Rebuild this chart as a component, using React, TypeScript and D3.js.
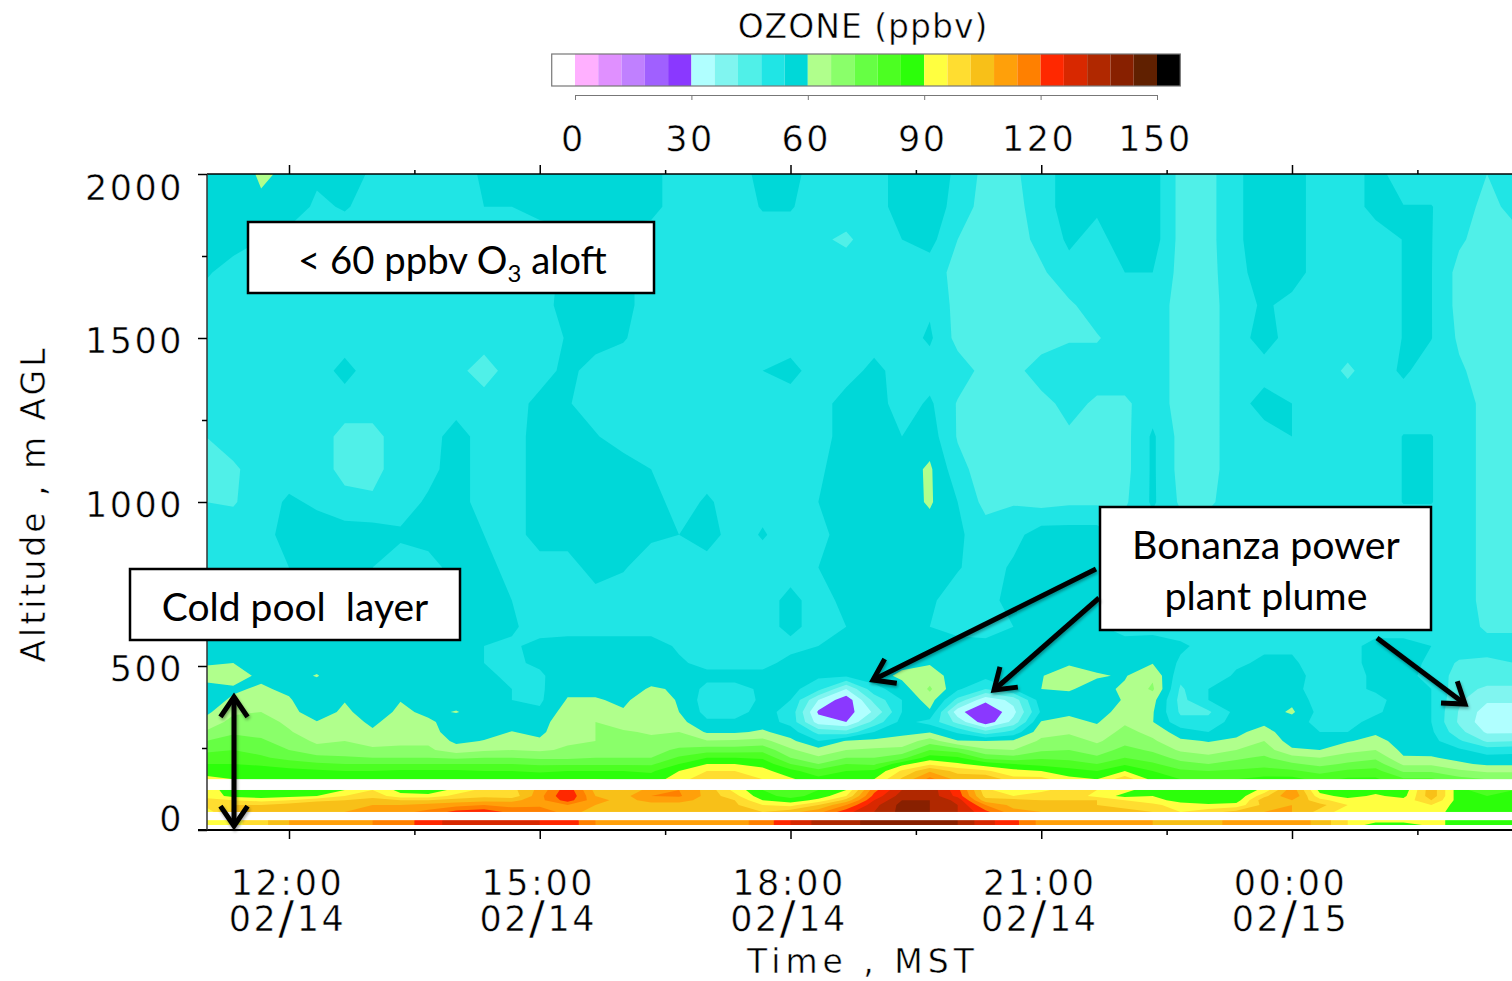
import React, { useEffect, useRef } from "react";
import * as d3 from "d3";

// ozone lidar curtain, ppbv. columns are 20 min apart starting at 11:00
const startTime = new Date(2013, 1, 14, 11, 0);
const columnCount = 48;

const aloftAltitudes = [2000, 1900, 1800, 1700, 1600, 1500, 1400, 1300, 1200, 1100, 1000, 900, 800, 700, 620];
const aloftRows = [
  [57,57,60.8,59,55,57,53,51,51,51,55,55, 56,57,57,57,56,51,51,51,56,56,51,51, 51,57,57,53,46,47,51,57,55,57,57,46, 46,53,57,57,51,51,56,51,51,48,48,51],
  [57,57,59,57,53,54.5,52,51,51,51,54,54, 56,57,57,57,56,51,51,51,54.5,54.5,51,51, 51,57,57,52,45,46,51,57,55,57,57,46, 46,53,57,57,51,51,56,54.2,54.2,51,46,50],
  [57,57,54,52,51,51,51,51,51,51,51,51, 51,52,51,51,51,51,51,51,51,51,49,47, 51,54,56,48,45,45,50,55,52,57,57,46, 46,53,57,57,51,51,51,54.2,54.2,49,45,46],
  [55,51,51,51,51,51,51,51,51,51,51,51, 51,56,56,56,51,51,51,51,51,51,51,51, 51,51,51,46,45,45,47,52,51,54,54,46, 46,52,57,57,51,51,51,54.2,54.2,46,45,45],
  [51,51,51,51,51,51,51,51,51,51,51,51, 51,57,57,56,51,51,51,51,51,51,51,51, 51,51,53,46,45,45,45,47,51,51,51,46, 46,51,55,52,51,51,51,54.2,54.2,46,45,45],
  [51,51,51,51,51,51,51,51,51,51,51,51, 51,54.5,57,54.5,51,51,51,51,51,51,51,51, 51,51,55,46,45,45,45,47.5,47.5,51,51,46, 46,51,57,51,51,51,51,54.2,54.2,47,45,45],
  [51,51,51,51,51,56,51,51,51,50,45,51, 51,56,51,51,51,51,51,51,54,56,51,51, 56,51,51,51,46,46,51,51,51,51,51,46, 46,51,51,51,51,47,51,55,51,49,45,45],
  [51,51,51,51,51,51,51,51,51,51,51,51, 56,54.5,51,51,51,51,51,51,51,51,51,57, 57,51,55,47.5,45,45,46,50,47,47,51,46, 46,51,57,54,51,51,51,51,51,51,46,45],
  [48,51,51,51,51,46,46,51,51,57,51,51, 57,57,54.5,51,51,51,51,51,51,51,51,57, 57,54,57,47.5,45,45,45,47,46,46,55,46, 46,51,51,54,51,51,51,54.2,54.2,51,46,45],
  [46,47,51,51,51,46,46,51,52,57,51,51, 57,57,57,57,54,51,51,51,51,51,53,57, 57,57,61,50,45,45,45,46,46,46,55,46, 46,51,51,51,51,51,51,54.2,54.2,51,46,45],
  [48,47.5,51,55,53,50,49,51,55,57,51,51, 57,57,57,57,57,51,55,51,52,51,54,57, 57,57,60.8,54,46,47.5,46,47,47,47,55,47, 47,51,51,51,51,51,51,54.2,54.2,51,46,45],
  [51,51,51,57,57,57,57,55,57,57,54,51, 57,57,57,57,55,54,57,51,54.6,51,52,57, 57,57,57,55,51,52,57,57,57,51,51,51, 51,51,51,51,51,51,51,51,51,51,46,45],
  [51,51,51,54,54,54,54,51,51,57,57,51, 51,51,57,54.5,51,51,51,51,51,51,54,57, 57,57,57,54.5,51,55,57,57,57,51,51,51, 51,51,51,51,51,51,51,51,51,51,46,45],
  [57,57,57,57,57,57,57,57,57,57,57,54, 51,51,51,51,51,51,51,51,51,56,51,56, 57,57,55,51,51,57,57,57,57,51,51,51, 51,51,51,51,51,51,51,51,51,51,46,46],
  [57,57,57,57,57,57,57,57,57,57,57,55, 51,51,51,51,51,51,51,51,51,56,51,54, 54,54,54,51,51,54,57,57,55,51,51,51, 51,51,51,51,51,51,51,51,51,51,47,47],
];

// below 620 m the structure is layered, so these are kept as one profile per time
const boundaryAltitudes = [561, 509, 470, 430, 396, 360, 329, 299, 271, 244, 220, 201, 180, 155, 122, 104, 91, 76, 55, 30, 15];
const boundaryProfiles = [
  [57,59.5,62,58,57,58.5,62,66.5,72,77,80,84,87,92, 92,94,98,97,93, 92,92],
  [57,60,63,59,61,65,68,71,74.5,78,81,84,87,90, 88,88,96,102,103, 94,94],
  [56,57,58.5,61,64,66,68,70,73,76,79,83,87,89, 86,86,94,102,105, 100,100],
  [56,56,57,58.5,60.8,63,65,66.5,69,72,76,81,86,88, 86,88,96,105,108, 108,108],
  [57,57,60.5,56,54,55,60.5,63,65,68,74,79,85,88, 88,90,100,108,106, 110,110],
  [57,56,54.5,54,59.5,62,63.5,65,66,68,73,78,84,88, 90,96,102,106,108, 112,112],
  [57,55,54,54,54,55,58.5,61,64,67,72,78,84,88, 96,100,104,108,110, 114,114],
  [57,56,54,55,59.7,62,64,64,65,67,72,78,85,88, 88,92,102,108,112, 116,116],
  [56,56,55,56,56,58,61.5,63,65,67,72,78,85,88, 86,92,102,110,116, 124,124],
  [55,55,55,55,56,60.5,56,56,58.5,63,71,78,85,89, 92,98,104,112,122, 128,128],
  [54,54,55,56,55,56,57,58,60.3,65,72,78,84,88, 98,100,106,114,124, 128,128],
  [53,53,53,54,54,56,57,60.2,64,66,72,78,84,87, 100,98,106,112,118, 126,126],
  [56,55,53,53,53,55,57,58.5,61,65,71,77,83,88, 110,112,112,112,120, 126,126],
  [57,57,58,58.5,60.5,63,65,65,65,67,71,77,84,89, 124,126,123,114,110, 124,124],
  [57,57,57,58.5,60.5,63,66,66,66,68,72,77,84,90, 106,108,110,108,106, 114,114],
  [57,57,57,58,59,60.5,64,66.5,66,68,72,77,84,87, 104,106,106,104,104, 112,112],
  [57,57,58,60.5,63,65,66,65.5,67,70,72,77,83,87, 110,114,110,106,104, 112,112],
  [53,55,56,59.5,59.5,60,62,66,69,73,79,84,90,93, 114,115,110,106,102, 112,112],
  [52,52,56,52,51,52,55,59.2,66.5,75,84,90,96,101, 106,106,106,104,103, 112,112],
  [52,52,56,52,51,52,55,59,67,75,84,90,96,100, 94,98,102,103,103, 112,112],
  [52,52,56,55,55,56,57,61,68,76,83,88,92,96, 84,86,90,96,102, 116,116],
  [52,56,57,56,54,52,52,57,61.5,67,72,78,86,91, 80,82,86,94,106, 126,126],
  [54,54,55,50,36,29,33,46,54,62,67,72,80,86, 84,86,92,102,112, 134,134],
  [54,55,55,36,26,27,30,44,60.5,66,72,78,84,88, 90,96,104,114,124, 136,136],
  [56,57,57,52,44,37,44,54,61.5,67,72,77,85,90, 118,122,126,130,132, 140,140],
  [57,58,61.5,57,54,54,56,58.5,62,68,76,88,97,103, 132,135,138,140,140, 142,142],
  [57,59.5,63,67,63,59,52,59.5,69,78,87,95,107,116, 136,136,138,138,138, 142,142],
  [57,57,57,55,46,32,40,53,60.5,75,85,91,100,106, 122,124,130,132,132, 138,138],
  [56,56,56,48,31.5,24,26,44,60.3,67,76,87,97,108, 98,100,104,114,122, 128,128],
  [56,56,56,54,38,34,38,50,61,66,74,84,92,98, 90,96,104,106,110, 122,122],
  [56,57,59.8,60,57.5,55,60.5,64,67,71,77,82,90,98, 94,100,102,104,108, 112,112],
  [57,59.5,62,60.5,58,59,61.5,65,69,72,76,81,86,92, 100,100,102,104,106, 110,110],
  [57,58.5,60.5,58,57,57,59.5,62,65,69,73,78,84,90, 96,94,102,102,104, 110,110],
  [57,58,59.5,61,60.5,63,65,68,70,74,78,83,90,100, 92,88,96,100,104, 110,110],
  [58,59.7,65,67,62,60.5,60.2,64,67,71,75,79,84,88, 86,90,92,98,102, 108,108],
  [55,53,50,47,46,47,50,57,61,65,70,74,79,84, 84,85,88,92,96, 106,106],
  [52,52,50,54,54,47,50,54,59.7,63,68,72,78,83, 84,85,86,91,100, 106,106],
  [52,53,55,56,56,56,57,58.5,61,66,71,74,79,84, 84,85,87,92,104, 110,110],
  [53,55,56,56,57,57,58.5,62.5,66,69,73,76,80,86, 92,100,106,104,108, 110,110],
  [53,55,57,56,58.5,61,57,56,57,61,68,73,79,86, 112,114,108,108,108, 112,112],
  [52,51,51,51,51,52,52,54,57,60,66,70,76,82, 88,92,98,104,100, 106,106],
  [52,52,52,52,51,51,52,54,59.5,64,69,73,79,85, 86,88,92,96,92, 96,96],
  [56,56,55,55,52,53,56,59,62,66,71,75,80,85, 88,91,94,96,92, 94,86],
  [56,56,55,56,57,57,57,57,57.5,58.5,60.5,65,71,79, 86,88,92,92,92, 94,86],
  [54,53,53,54,54,54,54,55,56,58,60.5,65,71,79, 106,106,102,96,92, 92,92],
  [52,47,45,44,43,41.5,41,44,49,55,58.5,61,67,74, 86,86,87,87,88, 88,88],
  [50,47,45,41,37,33,32,35,41,51,56,59,65,72, 80,84,86,86,86, 88,88],
  [50,48,45,41,37,33,33,35,42,52,56,59,65,72, 84,84,85,85,85, 88,88],
];

// altitude ranges the lidar did not report, left white
const noDataBands = [[122, 155], [30, 55], [0, 15]];

const bandColors = [
  "#ffffff",
  "#ffb0ff", "#e090ff", "#c080ff", "#a060ff", "#8a38ff",
  "#b0ffff", "#80f5f0", "#50f0e8", "#20e5e5", "#00d8d8",
  "#b0ff8c", "#8aff6a", "#66ff44", "#4cff22", "#2cff0a",
  "#ffff40", "#ffdd30", "#f8c018", "#ffa00a", "#ff8000",
  "#ff2800", "#d82800", "#b02800", "#882000", "#602000",
  "#000000",
];
const bandLevels = bandColors.map((_, i) => -6 + i * 6);
const colorTicks = [0, 30, 60, 90, 120, 150];

const altMajor = [0, 500, 1000, 1500, 2000];
const altMinor = [250, 750, 1250, 1750];
const timeMajor = [12, 15, 18, 21, 24].map((h) => new Date(2013, 1, 14, h));
const timeMinor = [13.5, 16.5, 19.5, 22.5, 25.5].map((h) => new Date(2013, 1, 14, Math.floor(h), (h % 1) * 60));

const AXIS_FONT = "'DejaVu Sans', sans-serif";
const NOTE_FONT = "Lato, sans-serif";

const plot = { left: 207, right: 1512, top: 174, bottom: 830 };

const xScale = d3.scaleTime().domain([timeMajor[0], timeMajor[4]]).range([289, 1292]);
const yScale = d3.scaleLinear().domain([0, 2000]).range([plot.bottom, plot.top]);
const barScale = d3.scaleLinear().domain([0, 150]).range([575, 1157]);

const altitudes = [...aloftAltitudes, ...boundaryAltitudes];
const cellValues: number[] = [];
altitudes.forEach((_, j) => {
  for (let i = 0; i < columnCount; i++) {
    cellValues.push(j < aloftRows.length ? aloftRows[j][i] : boundaryProfiles[i][j - aloftRows.length]);
  }
});

const colToTime = d3.scaleLinear().domain([0, 1]).range([+startTime, +startTime + 20 * 60000]);
const rowToAlt = d3.scaleLinear().domain(altitudes.map((_, j) => j)).range(altitudes).clamp(true);

const toPixels = d3.geoTransform({
  point(cx: number, cy: number) {
    // @ts-ignore
    this.stream.point(xScale(new Date(colToTime(cx - 0.5))), yScale(rowToAlt(cy - 0.5)));
  },
});
const contourPath = d3.geoPath(toPixels);
const contourBands = d3.contours().size([columnCount, altitudes.length]).thresholds(bandLevels)(cellValues);

function arrowHead(x0: number, y0: number, x1: number, y1: number, size = 24) {
  const a = Math.atan2(y1 - y0, x1 - x0);
  const wing = (d: number) => `${x1 - size * Math.cos(a + d)},${y1 - size * Math.sin(a + d)}`;
  return `M${wing(0.6)}L${x1},${y1}L${wing(-0.6)}`;
}

function Arrow({ x0, y0, x1, y1, both }: { x0: number; y0: number; x1: number; y1: number; both?: boolean }) {
  return (
    <g fill="none" stroke="#000" strokeWidth={5} strokeLinejoin="miter" filter="url(#noteShadow)">
      <path d={`M${x0},${y0}L${x1},${y1}`} />
      <path d={arrowHead(x0, y0, x1, y1)} />
      {both && <path d={arrowHead(x1, y1, x0, y0)} />}
    </g>
  );
}

function NoteBox({ x, y, w, h }: { x: number; y: number; w: number; h: number }) {
  return <rect x={x} y={y} width={w} height={h} fill="#fff" stroke="#000" strokeWidth={2.5} />;
}

export default function App() {
  const xMajorRef = useRef<SVGGElement>(null);
  const xMinorRef = useRef<SVGGElement>(null);
  const xTopRef = useRef<SVGGElement>(null);
  const xTopMinorRef = useRef<SVGGElement>(null);
  const yMajorRef = useRef<SVGGElement>(null);
  const yMinorRef = useRef<SVGGElement>(null);
  const barRef = useRef<SVGGElement>(null);

  useEffect(() => {
    const hhmm = d3.timeFormat("%H:%M");
    const mm = d3.timeFormat("%m");
    const dd = d3.timeFormat("%d");

    const xMajor = d3.select(xMajorRef.current!);
    xMajor.call(d3.axisBottom(xScale).tickValues(timeMajor).tickSize(9).tickSizeOuter(0).tickFormat(() => ""));
    xMajor.select(".domain").remove();
    xMajor.selectAll<SVGTextElement, Date>(".tick text").each(function (d) {
      const t = d3.select(this).attr("y", null).attr("dy", null);
      t.append("tspan").attr("x", -2).attr("y", 65).text(hhmm(d));
      const second = d3.select(this.parentNode as SVGGElement).append("text").attr("text-anchor", "middle").attr("x", -2).attr("y", 101);
      second.append("tspan").text(mm(d));
      second.append("tspan").attr("font-size", 47).attr("dy", 3).text("/");
      second.append("tspan").attr("dy", -3).text(dd(d));
    });

    const xMinor = d3.select(xMinorRef.current!);
    xMinor.call(d3.axisBottom(xScale).tickValues(timeMinor).tickSize(5).tickFormat(() => ""));
    xMinor.select(".domain").remove();

    const xTop = d3.select(xTopRef.current!);
    xTop.call(d3.axisTop(xScale).tickValues(timeMajor).tickSize(9).tickFormat(() => ""));
    xTop.select(".domain").remove();
    const xTopMinor = d3.select(xTopMinorRef.current!);
    xTopMinor.call(d3.axisTop(xScale).tickValues(timeMinor).tickSize(4).tickFormat(() => ""));
    xTopMinor.select(".domain").remove();

    // the labels at both ends of the altitude axis sit inside the axis range
    const altLabelShift = new Map([[0, -11], [500, 3], [1000, 3], [1500, 3], [2000, 14]]);
    const yMajor = d3.select(yMajorRef.current!);
    yMajor.call(d3.axisLeft(yScale).tickValues(altMajor).tickSize(9).tickPadding(14).tickFormat(d3.format("d") as any));
    yMajor.select(".domain").remove();
    yMajor.selectAll<SVGTextElement, number>(".tick text").attr("y", (d) => altLabelShift.get(d) ?? 0);
    const yMinor = d3.select(yMinorRef.current!);
    yMinor.call(d3.axisLeft(yScale).tickValues(altMinor).tickSize(5).tickFormat(() => ""));
    yMinor.select(".domain").remove();

    const bar = d3.select(barRef.current!);
    bar.call(d3.axisBottom(barScale).tickValues(colorTicks).tickSize(5).tickSizeOuter(0).tickPadding(26).tickFormat(d3.format("d") as any));
    bar.selectAll(".domain, .tick line").attr("stroke", "#777");
    bar.selectAll(".tick text").attr("x", -2);

    d3.selectAll<SVGGElement, unknown>(".lidar-axis").attr("font-family", AXIS_FONT).attr("font-size", 35);
    d3.selectAll<SVGTextElement, unknown>(".lidar-axis text")
      .attr("fill", "#000")
      .attr("letter-spacing", 2.5)
      .attr("stroke", "#fff")
      .attr("stroke-width", 0.5);
    d3.selectAll<SVGLineElement, unknown>(".lidar-plot .tick line").attr("stroke", "#000").attr("stroke-width", 1.5);
  }, []);

  return (
    <svg width={1512} height={981} style={{ position: "absolute", left: 0, top: 0, display: "block" }}>
      <defs>
        <clipPath id="plotClip">
          <rect x={plot.left} y={plot.top} width={plot.right - plot.left} height={plot.bottom - plot.top} />
        </clipPath>
        <filter id="noteShadow" x="-20%" y="-20%" width="140%" height="140%">
          <feDropShadow dx={1} dy={2} stdDeviation={1.5} floodColor="#000" floodOpacity={0.35} />
        </filter>
      </defs>

      <g clipPath="url(#plotClip)">
        {contourBands.map((band, i) => (
          <path key={i} d={contourPath(band) || ""} fill={bandColors[i]} />
        ))}
        {noDataBands.map(([lo, hi]) => (
          <rect key={lo} x={plot.left} width={plot.right - plot.left} y={yScale(hi)} height={yScale(lo) - yScale(hi)} fill="#fff" />
        ))}
      </g>

      <g className="lidar-plot">
        <line x1={plot.left} x2={plot.right} y1={plot.top} y2={plot.top} stroke="#000" strokeWidth={1.5} />
        <line x1={plot.left - 9} x2={plot.right} y1={plot.bottom} y2={plot.bottom} stroke="#000" strokeWidth={2} />
        <line x1={plot.left} x2={plot.left} y1={plot.top} y2={plot.bottom} stroke="#333" strokeWidth={1.5} />
        <g ref={xMajorRef} className="lidar-axis" transform={`translate(0,${plot.bottom})`} />
        <g ref={xMinorRef} className="lidar-axis" transform={`translate(0,${plot.bottom})`} />
        <g ref={xTopRef} className="lidar-axis" transform={`translate(0,${plot.top})`} />
        <g ref={xTopMinorRef} className="lidar-axis" transform={`translate(0,${plot.top})`} />
        <g ref={yMajorRef} className="lidar-axis" transform={`translate(${plot.left},0)`} />
        <g ref={yMinorRef} className="lidar-axis" transform={`translate(${plot.left},0)`} />
      </g>

      <g stroke="#fff" strokeWidth={0.5}>
        <text x={45} y={504} transform="rotate(-90 45 504)" textAnchor="middle" fontFamily={AXIS_FONT} fontSize={33} letterSpacing={3}>
          Altitude , m AGL
        </text>
        <text x={863} y={973} textAnchor="middle" fontFamily={AXIS_FONT} fontSize={33} letterSpacing={5}>
          Time , MST
        </text>
        <text x={863} y={38} textAnchor="middle" fontFamily={AXIS_FONT} fontSize={33} letterSpacing={1}>
          OZONE (ppbv)
        </text>
      </g>
      {bandColors.map((c, i) => (
        <rect key={c} x={barScale(bandLevels[i])} y={54} width={barScale(6) - barScale(0)} height={32} fill={c} />
      ))}
      <rect x={barScale(-6)} y={54} width={barScale(156) - barScale(-6)} height={32} fill="none" stroke="#777" strokeWidth={1.2} />
      <g ref={barRef} className="lidar-axis" transform="translate(0,95)" />

      <NoteBox x={248} y={222} w={406} h={71} />
      <text x={298} y={274} fontFamily={NOTE_FONT} fontSize={38.3}>
        {"< 60 ppbv O"}
        <tspan fontSize={24} dy={8}>3</tspan>
        <tspan dy={-8}> aloft</tspan>
      </text>

      <NoteBox x={130} y={569} w={330} h={71} />
      <text x={295} y={621} textAnchor="middle" fontFamily={NOTE_FONT} fontSize={39} xmlSpace="preserve">
        Cold pool  layer
      </text>

      <NoteBox x={1100} y={507} w={331} h={123} />
      <text x={1266} y={559} textAnchor="middle" fontFamily={NOTE_FONT} fontSize={39.3}>Bonanza power</text>
      <text x={1266} y={610} textAnchor="middle" fontFamily={NOTE_FONT} fontSize={39.3}>plant plume</text>

      <Arrow x0={1096} y0={569} x1={873} y1={680} />
      <Arrow x0={1099} y0={598} x1={994} y1={690} />
      <Arrow x0={1377} y0={638} x1={1465} y1={704} />
      <Arrow x0={234} y0={826} x1={234} y1={697} both />
    </svg>
  );
}
